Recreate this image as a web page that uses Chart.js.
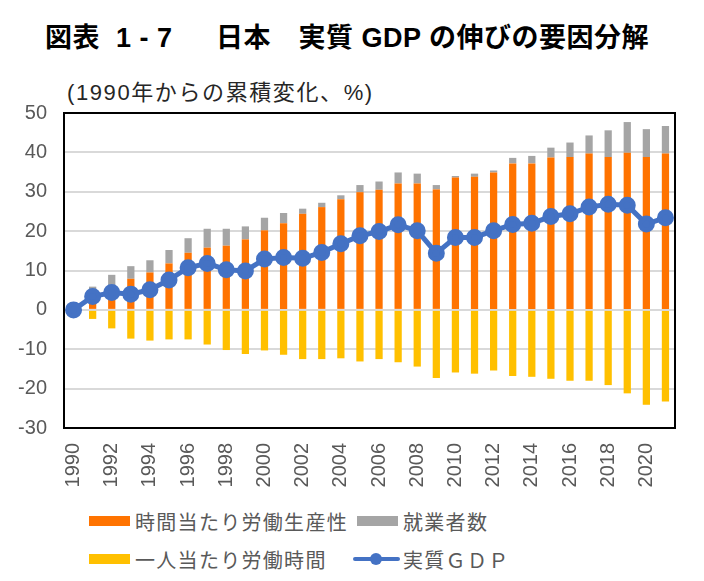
<!DOCTYPE html>
<html lang="ja">
  <head>
    <meta charset="UTF-8" />
    <title>日本 実質GDPの伸びの要因分解</title>
    <script src="https://cdn.jsdelivr.net/npm/chart.js"></script>
    <style>
      html, body {
        margin: 0;
        padding: 0;
        background: #ffffff;
      }
      body {
        width: 704px;
        height: 581px;
        position: relative;
        overflow: hidden;
        font-family: "Liberation Sans", "Noto Sans CJK JP", sans-serif;
      }
      #title {
        position: absolute;
        left: 45px;
        top: 16px;
        font-size: 27px;
        font-weight: bold;
        color: #000000;
        white-space: pre;
        letter-spacing: 0.5px;
      }
      #unit {
        position: absolute;
        left: 67px;
        top: 74px;
        font-size: 22px;
        letter-spacing: 1.6px;
        color: #262626;
      }
      #chartBox {
        position: absolute;
        left: 0;
        top: 0;
        width: 704px;
        height: 500px;
      }
      /* Legend */
      .legend-row {
        position: absolute;
        height: 24px;
        display: flex;
        align-items: center;
        font-size: 20px;
        letter-spacing: 1.3px;
        color: #595959;
        white-space: nowrap;
      }
      .swatch {
        width: 41px;
        height: 10px;
        margin-right: 5px;
      }
      .lineswatch {
        width: 47px;
        height: 14px;
        margin-right: 3px;
        position: relative;
      }
    </style>
  </head>
  <body>
    <div id="title">図表  1 - 7　  日本　実質 GDP の伸びの要因分解</div>
    <div id="unit">(1990年からの累積変化、%)</div>
    <div id="chartBox"><canvas id="gdpChart"></canvas></div>
    <div id="legend"></div>

    <script>
      // --- data ---
      const years = [
        "1990", "1991", "1992", "1993", "1994", "1995", "1996", "1997",
        "1998", "1999", "2000", "2001", "2002", "2003", "2004", "2005",
        "2006", "2007", "2008", "2009", "2010", "2011", "2012", "2013",
        "2014", "2015", "2016", "2017", "2018", "2019", "2020", "2021",
      ];

      // 時間当たり労働生産性
      const productivity = [
        0, 3.2, 6.0, 7.9, 9.5, 11.8, 14.5, 15.8,
        16.3, 17.9, 20.2, 22.0, 24.4, 26.1, 28.1, 29.9,
        30.5, 32.1, 32.1, 30.6, 33.6, 33.8, 34.9, 37.2,
        37.2, 38.7, 38.8, 39.7, 38.8, 39.9, 38.8, 39.7,
      ];

      // 就業者数
      const employment = [
        0, 2.7, 2.9, 3.2, 3.1, 3.4, 3.7, 4.8,
        4.3, 3.3, 3.2, 2.6, 1.3, 1.1, 1.0, 1.8,
        2.1, 2.8, 2.5, 1.1, 0.4, 0.8, 0.5, 1.4,
        1.9, 2.5, 3.7, 4.6, 6.8, 7.8, 7.1, 7.0,
      ];

      // 一人当たり労働時間
      const hours = [
        0, -2.3, -4.7, -7.3, -7.8, -7.5, -7.5, -8.8,
        -10.2, -11.2, -10.3, -11.4, -12.5, -12.5, -12.3, -13.1,
        -12.5, -13.3, -14.4, -17.3, -15.9, -16.2, -15.4, -16.8,
        -17.0, -17.5, -18.0, -18.0, -19.1, -21.2, -24.1, -23.3,
      ];

      // 実質ＧＤＰ
      const realGdp = [
        0, 3.4, 4.4, 4.0, 5.1, 7.6, 10.7, 11.8,
        10.2, 9.9, 12.9, 13.3, 13.1, 14.6, 16.8, 18.8,
        19.9, 21.6, 20.1, 14.4, 18.4, 18.4, 20.1, 21.7,
        22.0, 23.7, 24.4, 26.1, 26.8, 26.6, 21.8, 23.4,
      ];

      const yTicks = [50, 40, 30, 20, 10, 0, -10, -20, -30];

      const colors = {
        productivity: "#FF7300",
        employment: "#A5A5A5",
        hours: "#FFC000",
        gdp: "#4472C4",
      };

      const axisFont = {
        family: "'Liberation Sans', 'Noto Sans CJK JP', sans-serif",
        size: 20,
      };

      // black frame round the plot area
      const plotFrame = {
        id: "plotFrame",
        afterDraw(chart) {
          const { ctx, chartArea } = chart;
          ctx.save();
          ctx.strokeStyle = "#000000";
          ctx.lineWidth = 2;
          ctx.strokeRect(
            chartArea.left,
            chartArea.top,
            chartArea.right - chartArea.left,
            chartArea.bottom - chartArea.top
          );
          ctx.restore();
        },
      };

      const barStyle = {
        type: "bar",
        stack: "factors",
        barPercentage: 0.38,
        categoryPercentage: 1,
        order: 1,
      };

      new Chart(document.getElementById("gdpChart"), {
        data: {
          labels: years,
          datasets: [
            {
              ...barStyle,
              label: "時間当たり労働生産性",
              data: productivity,
              backgroundColor: colors.productivity,
            },
            {
              ...barStyle,
              label: "就業者数",
              data: employment,
              backgroundColor: colors.employment,
            },
            {
              ...barStyle,
              label: "一人当たり労働時間",
              data: hours,
              backgroundColor: colors.hours,
            },
            {
              type: "line",
              label: "実質ＧＤＰ",
              data: realGdp,
              stack: "gdp",
              borderColor: colors.gdp,
              backgroundColor: colors.gdp,
              borderWidth: 5,
              pointRadius: 6,
              pointHoverRadius: 6,
              tension: 0,
              order: 0,
            },
          ],
        },
        options: {
          responsive: true,
          maintainAspectRatio: false,
          animation: false,
          layout: {
            padding: { top: 113, right: 29, left: 0, bottom: 0 },
          },
          plugins: {
            legend: { display: false },
            tooltip: { enabled: false },
          },
          scales: {
            x: {
              stacked: true,
              grid: { display: false },
              border: { display: false },
              ticks: {
                autoSkip: false,
                minRotation: 90,
                maxRotation: 90,
                padding: 7,
                color: "#595959",
                font: axisFont,
                callback: (value, index) => (index % 2 === 0 ? years[index] : ""),
              },
              afterFit: (scale) => {
                scale.height = 72;
              },
            },
            y: {
              stacked: true,
              min: yTicks[yTicks.length - 1],
              max: yTicks[0],
              afterBuildTicks: (scale) => {
                scale.ticks = yTicks.map((v) => ({ value: v }));
              },
              grid: {
                color: "#D9D9D9",
                lineWidth: 2,
                drawTicks: false,
              },
              border: { display: false },
              ticks: {
                padding: 17,
                color: "#595959",
                font: axisFont,
              },
              afterFit: (scale) => {
                scale.width = 64;
              },
            },
          },
        },
        plugins: [plotFrame],
      });

      // legend laid out as in the reference (two columns)
      const legendItems = [
        { label: "時間当たり労働生産性", color: colors.productivity, x: 89, y: 509, kind: "box" },
        { label: "就業者数", color: colors.employment, x: 357, y: 509, kind: "box" },
        { label: "一人当たり労働時間", color: colors.hours, x: 89, y: 547, kind: "box" },
        { label: "実質ＧＤＰ", color: colors.gdp, x: 353, y: 547, kind: "line" },
      ];
      const legend = document.getElementById("legend");
      legendItems.forEach((it) => {
        const row = document.createElement("div");
        row.className = "legend-row";
        row.style.left = it.x + "px";
        row.style.top = it.y + "px";
        if (it.kind === "box") {
          row.innerHTML =
            '<span class="swatch" style="background:' + it.color + '"></span>' +
            "<span>" + it.label + "</span>";
        } else {
          row.innerHTML =
            '<span class="lineswatch">' +
            '<span style="position:absolute;left:0;top:5px;width:47px;height:4px;background:' + it.color + ';border-radius:2px"></span>' +
            '<span style="position:absolute;left:17px;top:1px;width:12px;height:12px;border-radius:50%;background:' + it.color + '"></span>' +
            "</span><span>" + it.label + "</span>";
        }
        legend.appendChild(row);
      });
    </script>
  </body>
</html>
